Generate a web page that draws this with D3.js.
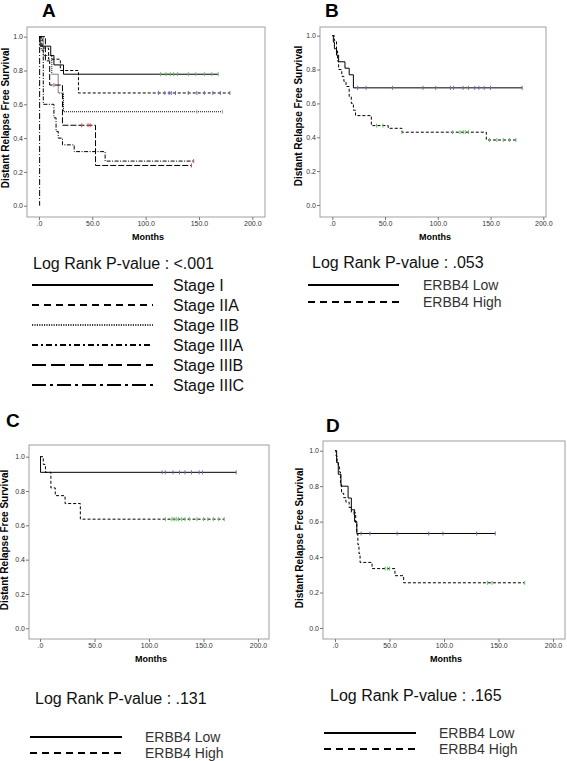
<!DOCTYPE html>
<html><head><meta charset="utf-8">
<script src="https://cdn.jsdelivr.net/npm/d3@7"></script>
<style>
body{margin:0;background:#fff}
svg{display:block}
text{font-family:"Liberation Sans",Arial,Helvetica,sans-serif}
</style>
</head><body>
<svg id="chart" width="567" height="761"></svg>
<script>
// ================= DATA =================
const xTicks = [0, 50, 100, 150, 200];
const yTicks = [0, 0.2, 0.4, 0.6, 0.8, 1.0];
const panelLetters = ["A", "B", "C", "D"];
const pValues = ["<.001", ".053", ".131", ".165"];
const stageGroups = ["Stage I", "Stage IIA", "Stage IIB", "Stage IIIA", "Stage IIIB", "Stage IIIC"];
const erbbGroups = ["ERBB4 Low", "ERBB4 High"];
const xTitle = "Months";
const yTitle = "Distant Relapse Free Survival";

// Panel A: steps [month, survival], last follow-up, censor months
const aStageISteps = [[0,1],[1,0.944],[11,0.889],[14,0.833],[23,0.778]];
const aStageIEnd = 168;
const aStageICens = [114,119,123,126,130,140,147,155,162,168];

const aStageIIASteps = [[0,1],[3,0.933],[9,0.867],[20,0.8],[37,0.667]];
const aStageIIAEnd = 179;
const aStageIIACens = [112,118,122,124,128,140,148,155,163,170,179];

const aStageIIBSteps = [[0,1],[4,0.889],[12,0.778],[18,0.667],[23,0.556]];
const aStageIIBEnd = 172;
const aStageIIBCens = [148,172];

const aStageIIIASteps = [[0,1],[2,0.92],[4,0.6],[14,0.52],[16,0.44],[18,0.4],[22,0.36],[33,0.32],[62,0.264]];
const aStageIIIAEnd = 146;
const aStageIIIACens = [145];

const aStageIIIBSteps = [[0,1],[6,0.857],[10,0.714],[22,0.476],[53,0.238]];
const aStageIIIBEnd = 143;
const aStageIIIBCens = [14,40,46,48,143];

const aStageIIICSteps = [[0,1],[0.6,0]];
const aStageIIICEnd = 0.6;
const aStageIIICCens = [];

// Panel B
const bLowSteps = [[0,1],[1,0.962],[2,0.923],[4,0.885],[6,0.846],[12,0.808],[16,0.769],[20,0.692]];
const bLowEnd = 180;
const bLowCens = [24,32,57,86,98,112,115,124,129,135,139,144,150,180];
const bHighSteps = [[0,1],[2,0.97],[4,0.91],[5,0.85],[6,0.8],[9,0.76],[11,0.73],[13,0.7],[16,0.64],[18,0.6],[20,0.56],[22,0.528],[37,0.469],[53,0.453],[66,0.43],[146,0.384]];
const bHighEnd = 174;
const bHighCens = [42,48,66,114,121,124,126,129,149,156,162,168,174];

// Panel C
const cLowSteps = [[0,1],[0.5,0.909]];
const cLowEnd = 180;
const cLowCens = [112,115,122,128,133,139,146,149,180];
const cHighSteps = [[0,1],[3,0.955],[5,0.909],[10,0.818],[14,0.773],[23,0.727],[37,0.636]];
const cHighEnd = 169;
const cHighCens = [115,121,123,125,127,130,133,137,144,150,154,159,164,169];

// Panel D
const dLowSteps = [[0,1],[1.5,0.933],[3,0.867],[5.5,0.8],[12,0.733],[15,0.667],[18,0.6],[20,0.533]];
const dLowEnd = 147;
const dLowCens = [24,32,57,86,99,130,147];
const dHighSteps = [[0,1],[1,0.97],[2,0.94],[3,0.91],[4,0.88],[5,0.82],[6,0.76],[8,0.735],[10,0.71],[13,0.68],[15,0.65],[19,0.59],[20,0.53],[21,0.47],[22,0.42],[23,0.37],[34,0.335],[55,0.295],[63,0.255]];
const dHighEnd = 174;
const dHighCens = [17,46,48,50,140,144,174];

// ================= LAYOUT / STYLE =================
const svg = d3.select("#chart");
const font = '"Liberation Sans",Arial,Helvetica,sans-serif';

const panels = [
  { letter: panelLetters[0], lx: 42, ly: 17,
    frame: {l: 27, t: 27, r: 265, b: 217}, xr: [39, 252.3], yr: [205.7, 36.7],
    ylab: {x: 9, y: 118},
    curves: [
      {steps: aStageISteps, end: aStageIEnd, cens: aStageICens, dash: null, cc: "#5fbf5f"},
      {steps: aStageIIASteps, end: aStageIIAEnd, cens: aStageIIACens, dash: "3,2", cc: "#6b6bbf"},
      {steps: aStageIIBSteps, end: aStageIIBEnd, cens: aStageIIBCens, dash: "1,1", cc: "#c8a070"},
      {steps: aStageIIIASteps, end: aStageIIIAEnd, cens: aStageIIIACens, dash: "4,1.5,1,1.5", cc: "#b050b0"},
      {steps: aStageIIIBSteps, end: aStageIIIBEnd, cens: aStageIIIBCens, dash: "6,2", cc: "#e05050"},
      {steps: aStageIIICSteps, end: aStageIIICEnd, cens: aStageIIICCens, dash: "6,2,1,2", cc: "#000"}
    ]
  },
  { letter: panelLetters[1], lx: 325, ly: 17,
    frame: {l: 320, t: 27, r: 546, b: 217}, xr: [332.3, 543.3], yr: [205, 35.7],
    ylab: {x: 302, y: 116},
    curves: [
      {steps: bLowSteps, end: bLowEnd, cens: bLowCens, dash: null, cc: "#6b6bbf"},
      {steps: bHighSteps, end: bHighEnd, cens: bHighCens, dash: "3,2", cc: "#5fbf5f"}
    ]
  },
  { letter: panelLetters[2], lx: 6, ly: 427,
    frame: {l: 29, t: 445, r: 269, b: 639}, xr: [40, 258], yr: [628.3, 456.7],
    ylab: {x: 8, y: 540},
    curves: [
      {steps: cLowSteps, end: cLowEnd, cens: cLowCens, dash: null, cc: "#6b6bbf"},
      {steps: cHighSteps, end: cHighEnd, cens: cHighCens, dash: "3,2", cc: "#5fbf5f"}
    ]
  },
  { letter: panelLetters[3], lx: 326, ly: 432,
    frame: {l: 323, t: 441, r: 565, b: 639}, xr: [335, 553], yr: [628, 450.7],
    ylab: {x: 303, y: 538},
    curves: [
      {steps: dLowSteps, end: dLowEnd, cens: dLowCens, dash: null, cc: "#6b6bbf"},
      {steps: dHighSteps, end: dHighEnd, cens: dHighCens, dash: "3,2", cc: "#5fbf5f"}
    ]
  }
];

const fmtX = d => d === 0 ? ".0" : d3.format(".1f")(d);
const fmtY = d3.format(".1f");

function survAt(steps, t) {
  let s = steps[0][1];
  for (const [tt, v] of steps) { if (tt <= t) s = v; }
  return s;
}

panels.forEach(p => {
  const g = svg.append("g");
  const x = d3.scaleLinear().domain([0, 200]).range(p.xr);
  const y = d3.scaleLinear().domain([0, 1]).range(p.yr);
  const f = p.frame;

  g.append("text").attr("x", p.lx).attr("y", p.ly)
    .attr("font-size", 19).attr("font-weight", "bold").attr("fill", "#000")
    .text(p.letter);

  g.append("rect").attr("x", f.l).attr("y", f.t)
    .attr("width", f.r - f.l).attr("height", f.b - f.t)
    .attr("fill", "#fff").attr("stroke", "#a0a0a0").attr("stroke-width", 1);

  const ya = g.append("g").attr("transform", `translate(${f.l},0)`)
    .call(d3.axisLeft(y).tickValues(yTicks).tickFormat(fmtY).tickSize(3).tickPadding(1));
  ya.select(".domain").remove();
  ya.selectAll("line").attr("stroke", "#777");
  ya.selectAll("text").attr("font-size", 7).attr("fill", "#333").attr("font-family", font);

  const xa = g.append("g").attr("transform", `translate(0,${f.b})`)
    .call(d3.axisBottom(x).tickValues(xTicks).tickFormat(fmtX).tickSize(3).tickPadding(1));
  xa.select(".domain").remove();
  xa.selectAll("line").attr("stroke", "#777");
  xa.selectAll("text").attr("font-size", 7).attr("fill", "#333").attr("font-family", font);

  g.append("text").attr("x", (f.l + f.r) / 2 + 2).attr("y", f.b + 23)
    .attr("text-anchor", "middle").attr("font-size", 9).attr("font-weight", "bold")
    .text(xTitle);
  g.append("text").attr("transform", `translate(${p.ylab.x},${p.ylab.y}) rotate(-90)`)
    .attr("text-anchor", "middle").attr("font-size", 10).attr("font-weight", "bold")
    .text(yTitle);

  const line = d3.line().x(d => x(d[0])).y(d => y(d[1])).curve(d3.curveStepAfter);

  p.curves.forEach(c => {
    const pts = c.steps.concat([[c.end, c.steps[c.steps.length - 1][1]]]);
    g.append("path").attr("d", line(pts)).attr("fill", "none")
      .attr("stroke", "#000").attr("stroke-width", 1)
      .attr("stroke-dasharray", c.dash);
    g.selectAll(null).data(c.cens).enter().append("line")
      .attr("x1", d => x(d)).attr("x2", d => x(d))
      .attr("y1", d => y(survAt(c.steps, d)) - 2).attr("y2", d => y(survAt(c.steps, d)) + 2)
      .attr("stroke", c.cc).attr("stroke-width", 1);
  });
});

// ================= LEGENDS =================
function pText(x0, y0, pv) {
  svg.append("text").attr("x", x0).attr("y", y0).attr("font-size", 16).attr("fill", "#111")
    .text("Log Rank P-value : " + pv);
}

pText(33, 269, pValues[0]);
const stageDash = [null, "7,5", "1.2,1.2", "6,3,2,3", "14,5", "14,4,3,4"];
const stageWidth = [2, 2, 1.5, 2, 2, 2];
stageGroups.forEach((s, i) => {
  const yy = 285 + i * 20;
  svg.append("line").attr("x1", 32).attr("x2", 153).attr("y1", yy).attr("y2", yy)
    .attr("stroke", "#000").attr("stroke-width", stageWidth[i]).attr("stroke-dasharray", stageDash[i]);
  svg.append("text").attr("x", 173).attr("y", yy + 6).attr("font-size", 16).attr("fill", "#111").text(s);
});

const erbbLegends = [
  {px: 312, py: 268, x1: 308, x2: 399, ly: 285, gap: 17, tx: 423, pv: pValues[1]},
  {px: 35, py: 704, x1: 30, x2: 122, ly: 737, gap: 16, tx: 145, pv: pValues[2]},
  {px: 330, py: 701, x1: 324, x2: 416, ly: 733, gap: 16, tx: 439, pv: pValues[3]}
];
const erbbDash = [null, "7,5"];
erbbLegends.forEach(L => {
  pText(L.px, L.py, L.pv);
  erbbGroups.forEach((s, i) => {
    const yy = L.ly + i * L.gap;
    svg.append("line").attr("x1", L.x1).attr("x2", L.x2).attr("y1", yy).attr("y2", yy)
      .attr("stroke", "#000").attr("stroke-width", 2).attr("stroke-dasharray", erbbDash[i]);
    svg.append("text").attr("x", L.tx).attr("y", yy + 5).attr("font-size", 14).attr("fill", "#333").text(s);
  });
});
</script>
</body></html>
